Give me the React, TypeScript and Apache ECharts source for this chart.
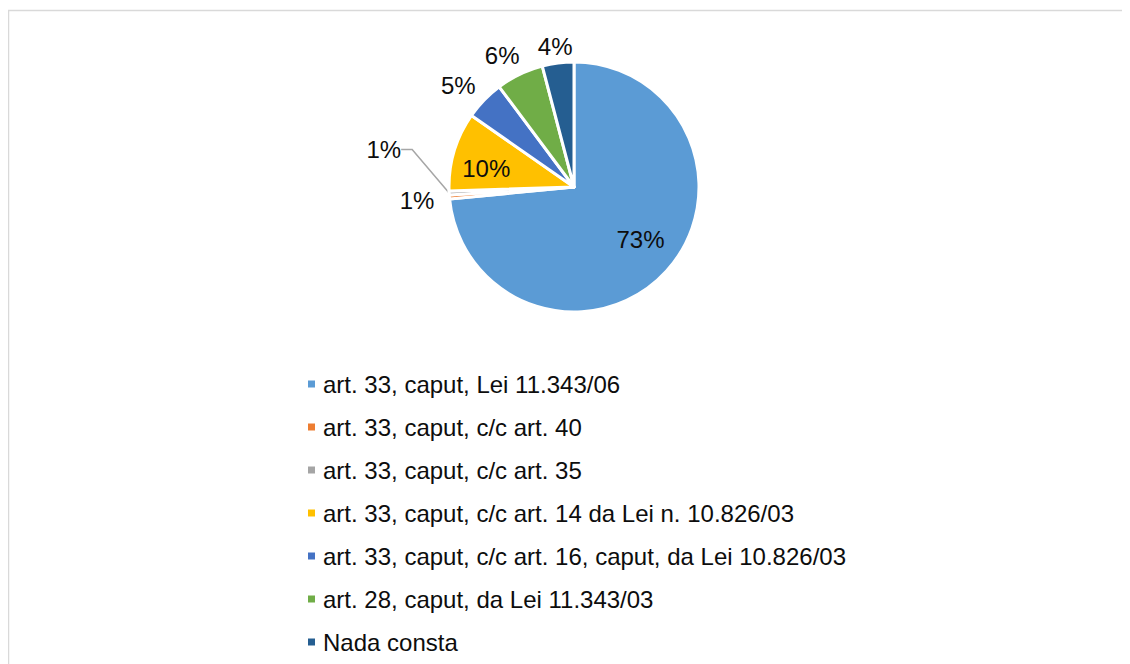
import React, { useEffect, useRef } from "react";
import * as echarts from "echarts";

const categories = [
  "art. 33, caput, Lei 11.343/06",
  "art. 33, caput, c/c art. 40",
  "art. 33, caput, c/c art. 35",
  "art. 33, caput, c/c art. 14 da Lei n. 10.826/03",
  "art. 33, caput, c/c art. 16, caput, da Lei 10.826/03",
  "art. 28, caput, da Lei 11.343/03",
  "Nada consta",
];
const values = [144, 1, 1, 20, 10, 12, 8];
const colors = ["#5B9BD5", "#ED7D31", "#A5A5A5", "#FFC000", "#4472C4", "#70AD47", "#255E91"];

// label placement: inside/outside, and small nudges to match the reference
const labelInside = [true, false, false, true, false, false, false];
const showLeader = [false, false, true, false, false, false, false];
const nudgeX = [18, 2, -10, -25, 5, 10, 21];
const nudgeY = [8, 3, -44, 0, -6, -8, -5];

const FONT = "'Liberation Sans', Arial, sans-serif";
const TEXT = "#0d0d0d";

export default function App() {
  const ref = useRef<HTMLDivElement>(null);
  useEffect(() => {
    if (!ref.current) return;
    const chart = echarts.init(ref.current, undefined, { renderer: "svg" });
    const data = categories.map((name, i) => ({
      name,
      value: values[i],
      itemStyle: { color: colors[i] },
      label: {
        position: labelInside[i] ? "inside" : "outside",
        padding: showLeader[i] ? [0, 5, 0, 0] : 0,
      },
      labelLine: {
        show: showLeader[i],
        length: 12,
        length2: showLeader[i] ? 11 : 0,
        lineStyle: { color: "#A6A6A6", width: 1.5 },
      },
    }));
    chart.setOption({
      animation: false,
      backgroundColor: "#ffffff",
      graphic: [
        {
          type: "rect",
          shape: { x: 0.5, y: 2.5, width: 1400, height: 900 },
          style: { fill: "none", stroke: "#d9d9d9", lineWidth: 1.5 },
          silent: true,
        },
      ],
      legend: {
        orient: "vertical",
        left: 300,
        top: 364,
        padding: 0,
        itemWidth: 7,
        itemHeight: 7,
        itemGap: 19,
        icon: "rect",
        itemStyle: { borderWidth: 0 },
        textStyle: {
          fontFamily: FONT,
          fontSize: 24,
          lineHeight: 24,
          color: TEXT,
          padding: [0, 0, 0, 3],
        },
        data: categories,
      },
      series: [
        {
          type: "pie",
          center: [566, 179],
          radius: 125,
          startAngle: 90,
          clockwise: true,
          percentPrecision: 0,
          avoidLabelOverlap: false,
          itemStyle: { borderColor: "#ffffff", borderWidth: 3 },
          label: {
            show: true,
            formatter: "{d}%",
            fontFamily: FONT,
            fontSize: 24,
            color: TEXT,
            distanceToLabelLine: 5,
          },
          labelLayout: (params: any) => {
            const i = params.dataIndex;
            if (showLeader[i]) {
              const r = params.labelRect;
              return {
                x: r.x + r.width + nudgeX[i],
                y: r.y + r.height / 2 + nudgeY[i],
              };
            }
            return { dx: nudgeX[i], dy: nudgeY[i] };
          },
          emphasis: { disabled: true },
          data,
        },
      ],
    });
    return () => chart.dispose();
  }, []);
  return <div ref={ref} style={{ width: 1122, height: 656 }} />;
}
